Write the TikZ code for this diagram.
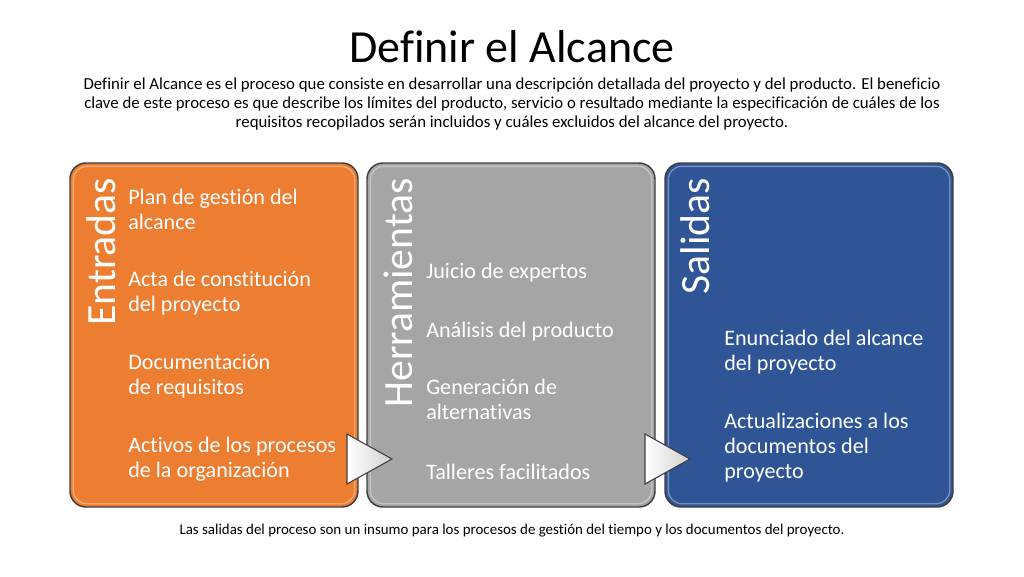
\documentclass[tikz,border=0pt]{standalone}
\usepackage{fontspec}
\setmainfont{Carlito}[Ligatures=NoCommon]
\usetikzlibrary{positioning}

\definecolor{naranja}{HTML}{ED7D31}
\definecolor{gris}{HTML}{A5A5A5}
\definecolor{azul}{HTML}{2F5597}
\definecolor{borde}{HTML}{3F3F3F}

\begin{document}
\begin{tikzpicture}[x=0.75pt, y=-0.75pt]
	\def \ancho {216pt}
	\def \alto {258pt}

	\tikzset{
		panel/.style={draw=borde, line width=1.1pt, rounded corners=12pt,
			minimum width=\ancho, minimum height=\alto, inner sep=0pt},
		brillo/.style={draw=white, draw opacity=0.35, line width=1pt,
			rounded corners=10pt, minimum width=\ancho-5pt,
			minimum height=\alto-5pt, inner sep=0pt},
		titulo/.style={rotate=90, anchor=base east, inner sep=0pt,
			text=white, font=\fontsize{31.2}{36}\selectfont},
		item/.style={anchor=base west, align=left, inner sep=0pt,
			text=white, font=\fontsize{16.6}{18.4}\selectfont},
		flecha/.style={draw=borde, line width=0.8pt, line join=miter,
			left color=white, right color=black!18}
	}

	\useasboundingbox[fill=white] (0,0) rectangle (1024,576);

	\node[anchor=base, inner sep=0pt, font=\fontsize{34.5}{40}\selectfont]
		(titulo) at (512,62) {Definir el Alcance};
	% el ancla base queda en la ultima linea
	\node[anchor=base, align=center, inner sep=0pt,
		font=\fontsize{12.6}{13.9}\selectfont] (descripcion) at (512,127)
		{Definir el Alcance es el proceso que consiste en desarrollar una descripción detallada del proyecto y del producto. El beneficio\\
		clave de este proceso es que describe los límites del producto, servicio o resultado mediante la especificación de cuáles de los\\
		requisitos recopilados serán incluidos y cuáles excluidos del alcance del proyecto.};

	% paneles
	\node[panel, fill=naranja] (entradas)     at (214,335) {};
	\node[panel, fill=gris]    (herramientas) at (511,335) {};
	\node[panel, fill=azul]    (salidas)      at (809,335) {};
	\foreach \p in {entradas, herramientas, salidas}
		\node[brillo] at (\p.center) {};

	\node[titulo] (tentradas)     at (115,178) {Entradas};
	\node[titulo] (therramientas) at (412,178) {Herramientas};
	\node[titulo] (tsalidas)      at (709,178) {Salidas};

	\node[item] (plan)    at (128,229.5) {Plan de gestión del\\alcance};
	\node[item] (acta)    at (128,311.5) {Acta de constitución\\del proyecto};
	\node[item] (docreq)  at (128,394.5) {Documentación\\de requisitos};
	\node[item] (activos) at (128,477.5) {Activos de los procesos\\de la organización};

	\node[item] (juicio)     at (426,278) {Juicio de expertos};
	\node[item] (analisis)   at (426,337) {Análisis del producto};
	\node[item] (generacion) at (426,419.5) {Generación de\\alternativas};
	\node[item] (talleres)   at (426,479) {Talleres facilitados};

	\node[item] (enunciado) at (724,370.5) {Enunciado del alcance\\del proyecto};
	\node[item] (actualiza) at (724,478) {Actualizaciones a los\\documentos del\\proyecto};

	% flechas entre paneles
	\foreach \xa in {347, 645}
		\draw[flecha] (\xa,434) -- (\xa,484) -- (\xa+45,459) -- cycle;

	\node[anchor=base, inner sep=0pt, font=\fontsize{11.2}{13}\selectfont]
		(nota) at (512,534) {Las salidas del proceso son un insumo para los procesos de gestión del tiempo y los documentos del proyecto.};
\end{tikzpicture}
\end{document}
